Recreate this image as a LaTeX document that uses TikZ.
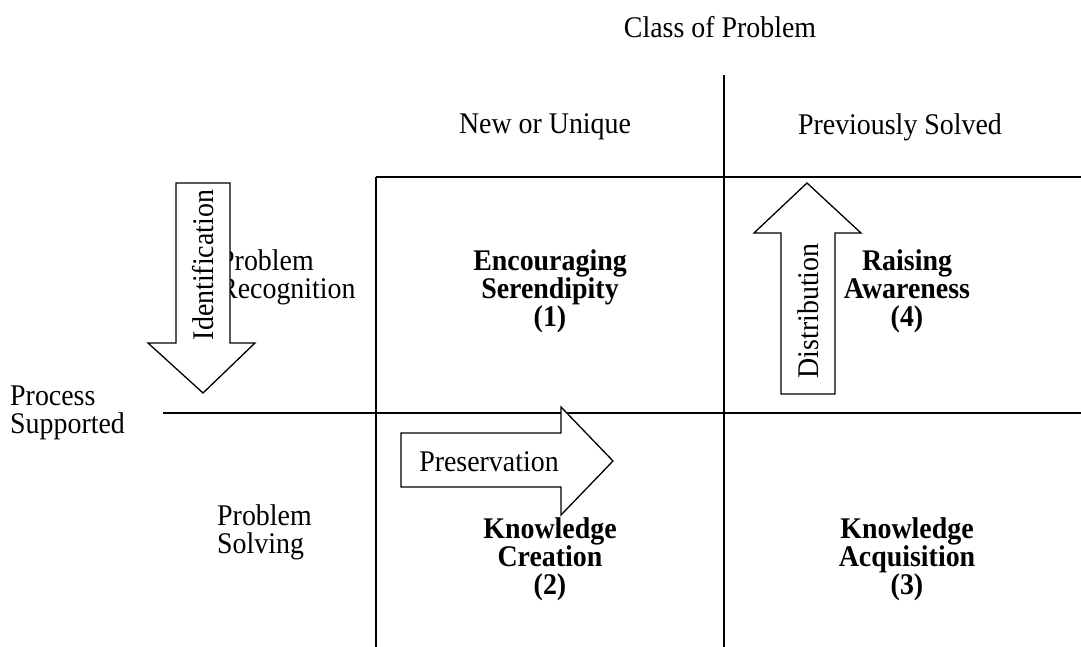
\documentclass[tikz,border=0pt]{standalone}
\usepackage{fontspec}
\setmainfont{Liberation Serif}[FakeStretch=0.93]
\usepackage{tikz}
\usetikzlibrary{
  positioning,
  calc
}
\tikzset{
  plain/.style={inner sep=0pt, font=\fontsize{30}{27.8}\selectfont},
  sidelabel/.style={inner sep=0pt, anchor=west, align=left,
    font=\fontsize{30}{27.8}\selectfont},
  cell/.style={inner sep=0pt, align=center,
    font=\fontsize{30}{27.8}\selectfont\bfseries},
  gridline/.style={line width=2pt},
  blockarrow/.style={draw, fill=white, line width=1.3pt, line join=miter},
}

\begin{document}
\begin{tikzpicture}[x=1pt, y=-1pt]
  \useasboundingbox (0,0) rectangle (1081,647);

  % Axis headings
  \node[plain] (classhead) at (720,27) {Class of Problem};
  \node[plain] (newhead) at (545,127) {New or Unique};
  \node[plain] (solvedhead) at (900,127) {Previously Solved};
  \node[sidelabel] (processhead) at (10,413) {Process\\Supported};
  \node[sidelabel] (recognition) at (219,277) {Problem\\Recognition};
  \node[sidelabel] (solving) at (217,532) {Problem\\Solving};

  % Grid of the four quadrants
  \draw[gridline] (724,75) -- (724,647);
  \draw[gridline] (376,177) -- (376,647);
  \draw[gridline] (376,177) -- (1081,177);
  \draw[gridline] (163,413) -- (1081,413);

  % Quadrants
  \node[cell] (serendipity) at (550,291) {Encouraging\\Serendipity\\(1)};
  \node[cell] (creation) at (550,559) {Knowledge\\Creation\\(2)};
  \node[cell] (acquisition) at (907,559) {Knowledge\\Acquisition\\(3)};
  \node[cell] (awareness) at (907,291) {Raising\\Awareness\\(4)};

  % Block arrows, drawn over the text
  \draw[blockarrow] (176,183) -- (230,183) -- (230,343) -- (255,343)
    -- (203,393) -- (148,343) -- (176,343) -- cycle;
  \node[plain, rotate=90] (identification) at (203,265) {Identification};

  \draw[blockarrow] (401,433) -- (561,433) -- (561,407) -- (613,461)
    -- (561,515) -- (561,487) -- (401,487) -- cycle;
  \node[plain] (preservation) at (489,462) {Preservation};

  \draw[blockarrow] (781,394) -- (781,233) -- (754,233) -- (807,183)
    -- (861,233) -- (835,233) -- (835,394) -- cycle;
  \node[plain, rotate=90] (distribution) at (808,311) {Distribution};
\end{tikzpicture}
\end{document}
